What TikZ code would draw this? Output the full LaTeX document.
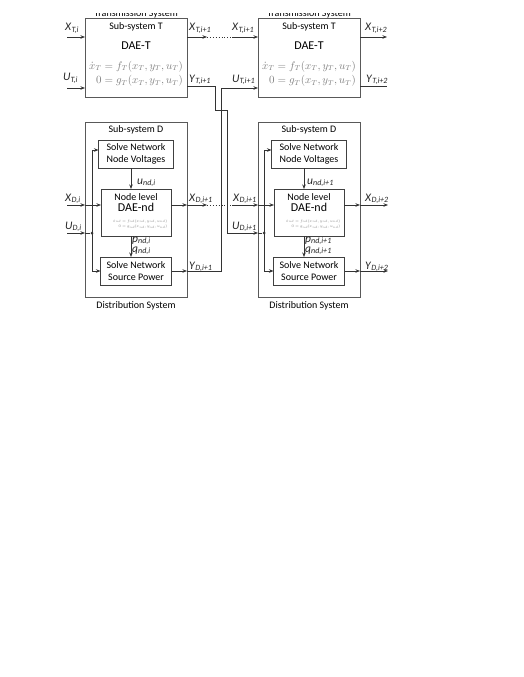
\documentclass[tikz,border=0pt]{standalone}
\usepackage{amsmath}
\usepackage{graphicx}
\usepackage{fontspec}
\setmainfont{Carlito}
\usetikzlibrary{arrows.meta,positioning}
\newcommand{\sigl}[2]{\textit{#1}\textsubscript{\textit{#2}}}

\begin{document}
\begin{tikzpicture}[
    x=1pt, y=-1pt,
    font=\fontsize{10}{11.5}\selectfont,
    sysbox/.style={rectangle, draw=black!65, line width=1pt, minimum width=102pt, outer sep=0pt},
    solve/.style={rectangle, draw=black!75, line width=0.9pt, minimum width=75pt, minimum height=28pt,
                  inner sep=1pt, align=center, outer sep=0pt},
    txt/.style={anchor=base, inner sep=0pt},
    lbl/.style={inner sep=0pt, anchor=base west, font=\fontsize{11.5}{13}\selectfont, text=black!85},
    eqn/.style={inner sep=0pt, text=black!50},
    dot/.style={circle, fill=black!80, inner sep=0pt, minimum size=3pt},
    arr/.style={-{Stealth[length=4.5pt,width=3.5pt]}, line width=0.7pt, draw=black!80},
    wire/.style={line width=0.7pt, draw=black!80},
    link/.style={dotted, line width=0.9pt, draw=black!80},
]
\useasboundingbox[fill=white] (0,0) rectangle (523,677);

% Transmission sub-systems
\node[sysbox, minimum height=78pt] (TL) at (136,58) {};
\node[sysbox, minimum height=78pt, right=71pt of TL] (TR) {};

% Distribution sub-systems
\node[sysbox, minimum height=175pt, below=25pt of TL] (DL) {};
\node[sysbox, minimum height=175pt, right=71pt of DL] (DR) {};

% Inner blocks, left
\node[solve, below=18pt of DL.north] (NVL) {Solve Network\\Node Voltages};
\node[solve, minimum width=70pt, minimum height=47pt, below=21pt of NVL] (NDL) {};
\node[solve, minimum width=71pt, below=21pt of NDL] (SPL) {Solve Network\\Source Power};

% Inner blocks, right
\node[solve, below=18pt of DR.north] (NVR) {Solve Network\\Node Voltages};
\node[solve, minimum width=70pt, minimum height=47pt, below=21pt of NVR] (NDR) {};
\node[solve, minimum width=71pt, below=21pt of NDR] (SPR) {Solve Network\\Source Power};

% Box texts
\begin{scope}
  \clip (60,13.5) rectangle (400,19);
  \node[txt] (TLsys) at ([yshift=2.5pt]TL.north) {Transmission System};
  \node[txt] (TRsys) at ([yshift=2.5pt]TR.north) {Transmission System};
\end{scope}
\node[txt] (TLtitle) at ([yshift=-11pt]TL.north) {Sub-system T};
\node[txt, font=\fontsize{12}{14}\selectfont] (TLdae) at ([yshift=-31pt]TL.north) {DAE-T};
\node[eqn, font=\fontsize{10.5}{12.5}\selectfont] (TLeq) at ([yshift=-55pt]TL.north)
  {$\begin{aligned}\dot{x}_T &= f_T(x_T,y_T,u_T)\\[-1pt] 0 &= g_T(x_T,y_T,u_T)\end{aligned}$};
\node[txt] (TRtitle) at ([yshift=-11pt]TR.north) {Sub-system T};
\node[txt, font=\fontsize{12}{14}\selectfont] (TRdae) at ([yshift=-31pt]TR.north) {DAE-T};
\node[eqn, font=\fontsize{10.5}{12.5}\selectfont] (TReq) at ([yshift=-55pt]TR.north)
  {$\begin{aligned}\dot{x}_T &= f_T(x_T,y_T,u_T)\\[-1pt] 0 &= g_T(x_T,y_T,u_T)\end{aligned}$};

\node[txt] (DLtitle) at ([yshift=-10pt]DL.north) {Sub-system D};
\node[txt] (DLsys) at ([yshift=-11pt]DL.south) {Distribution System};
\node[txt] (DRtitle) at ([yshift=-10pt]DR.north) {Sub-system D};
\node[txt] (DRsys) at ([yshift=-11pt]DR.south) {Distribution System};

\node[txt] (NDLa) at ([yshift=-11pt]NDL.north) {Node level};
\node[txt, font=\fontsize{12}{14}\selectfont] (NDLb) at ([yshift=-22pt]NDL.north) {DAE-nd};
\node[eqn, font=\fontsize{6}{7}\selectfont] (NDLeq) at ([xshift=4pt,yshift=-35pt]NDL.north)
  {\scalebox{0.63}{$\begin{aligned}\dot{x}_{nd} &= f_{nd}(x_{nd},y_{nd},u_{nd})\\[-1pt] 0 &= g_{nd}(x_{nd},y_{nd},u_{nd})\end{aligned}$}};
\node[txt] (NDRa) at ([yshift=-11pt]NDR.north) {Node level};
\node[txt, font=\fontsize{12}{14}\selectfont] (NDRb) at ([yshift=-22pt]NDR.north) {DAE-nd};
\node[eqn, font=\fontsize{6}{7}\selectfont] (NDReq) at ([xshift=4pt,yshift=-35pt]NDR.north)
  {\scalebox{0.63}{$\begin{aligned}\dot{x}_{nd} &= f_{nd}(x_{nd},y_{nd},u_{nd})\\[-1pt] 0 &= g_{nd}(x_{nd},y_{nd},u_{nd})\end{aligned}$}};

% Free ends and bends
\coordinate (xTin) at (67,37);
\coordinate (uTin) at (67,88);
\coordinate (xTmid) at (207,37);
\coordinate (xTmid2) at (232,37);
\coordinate (xTout) at (387,37);
\coordinate (yTout) at (387,86);
\coordinate (jogA) at (215,110);
\coordinate (jogB) at (227,110);
\coordinate (busA) at (221,88);
\coordinate (xDin) at (67,205);
\coordinate (uDin) at (67,233);
\coordinate (xDmid) at (207,205);
\coordinate (xDmid2) at (232,205);
\coordinate (xDout) at (388,205);
\coordinate (yDout) at (388,271);
\node[dot] (dotL) at (92,233) {};
\node[dot] (dotR) at (264,233) {};

% Transmission connectors
\draw[arr] (xTin) -- (xTin -| TL.west);
\draw[arr] (uTin) -- (uTin -| TL.west);
\draw[arr] (TL.east |- xTin) -- (xTmid);
\draw[link] (xTmid) -- (xTmid2);
\draw[arr] (xTmid2) -- (xTmid2 -| TR.west);
\draw[arr] (TL.east |- yTout) -| (jogA) -- (jogB) |- (uDin -| DR.west);
\draw[arr] (TR.east |- xTout) -- (xTout);
\draw[wire] (TR.east |- yTout) -- (yTout);

% Distribution connectors, left
\draw[arr] (xDin) -- (xDin -| DL.west);
\draw[arr] (xDin -| DL.west) -- (xDin -| NDL.west);
\draw[arr] (uDin) -- (uDin -| DL.west);
\draw[wire] (uDin -| DL.west) -- (dotL);
\draw[arr] (dotL.center) |- ([yshift=4pt]NVL.west);
\draw[arr] (dotL.center) |- (SPL.west);
\draw[arr] ([xshift=-5pt]NVL.south) -- ([xshift=-5pt]NVL.south |- NDL.north);
\draw[arr] ([xshift=-5pt]NDL.south) -- ([xshift=-5pt]NDL.south |- SPL.north);
\draw[arr] (NDL.east |- xDin) -- (DL.east |- xDin);
\draw[arr] (DL.east |- xDin) -- (xDmid);
\draw[link] (xDmid) -- (xDmid2);
\draw[arr] (SPL.east) -- (SPL.east -| DL.east);
\draw[arr] (SPL.east -| DL.east) -| (busA) -- (busA -| TR.west);

% Distribution connectors, right
\draw[arr] (xDmid2) -- (xDmid2 -| DR.west);
\draw[arr] (xDmid2 -| DR.west) -- (xDmid2 -| NDR.west);
\draw[wire] (uDin -| DR.west) -- (dotR);
\draw[arr] (dotR.center) |- ([yshift=4pt]NVR.west);
\draw[arr] (dotR.center) |- (SPR.west);
\draw[arr] ([xshift=-5pt]NVR.south) -- ([xshift=-5pt]NVR.south |- NDR.north);
\draw[arr] ([xshift=-5pt]NDR.south) -- ([xshift=-5pt]NDR.south |- SPR.north);
\draw[arr] (NDR.east |- xDin) -- (DR.east |- xDin);
\draw[arr] (DR.east |- xDin) -- (xDout);
\draw[arr] (SPR.east) -- (SPR.east -| DR.east);
\draw[arr] (SPR.east -| DR.east) -- (yDout);

% Signal labels
\node[lbl] (lxTi) at (65,31) {\sigl{X}{T,i}};
\node[lbl] (luTi) at (63,81) {\sigl{U}{T,i}};
\node[lbl] (lxTo) at (189,31) {\sigl{X}{T,i+1}};
\node[lbl] (lyTo) at (189,82) {\sigl{Y}{T,i+1}};
\node[lbl] (lxTi2) at (232,31) {\sigl{X}{T,i+1}};
\node[lbl] (luTi2) at (232,82) {\sigl{U}{T,i+1}};
\node[lbl] (lxTo2) at (365,31) {\sigl{X}{T,i+2}};
\node[lbl] (lyTo2) at (366,82) {\sigl{Y}{T,i+2}};
\node[lbl] (lxDi) at (65,201) {\sigl{X}{D,i}};
\node[lbl] (luDi) at (65,229) {\sigl{U}{D,i}};
\node[lbl] (lxDo) at (189,201) {\sigl{X}{D,i+1}};
\node[lbl] (lyDo) at (189,269) {\sigl{Y}{D,i+1}};
\node[lbl] (lund) at (137,184) {\sigl{u}{nd,i}};
\node[lbl] (lpnd) at (132,242) {\sigl{p}{nd,i}};
\node[lbl] (lqnd) at (132,252) {\sigl{q}{nd,i}};
\node[lbl] (lxDi2) at (233,201) {\sigl{X}{D,i+1}};
\node[lbl] (luDi2) at (232,229) {\sigl{U}{D,i+1}};
\node[lbl] (lxDo2) at (365,201) {\sigl{X}{D,i+2}};
\node[lbl] (lyDo2) at (365,269) {\sigl{Y}{D,i+2}};
\node[lbl] (lund2) at (307,184) {\sigl{u}{nd,i+1}};
\node[lbl] (lpnd2) at (305,242) {\sigl{p}{nd,i+1}};
\node[lbl] (lqnd2) at (305,252) {\sigl{q}{nd,i+1}};
\end{tikzpicture}
\end{document}
